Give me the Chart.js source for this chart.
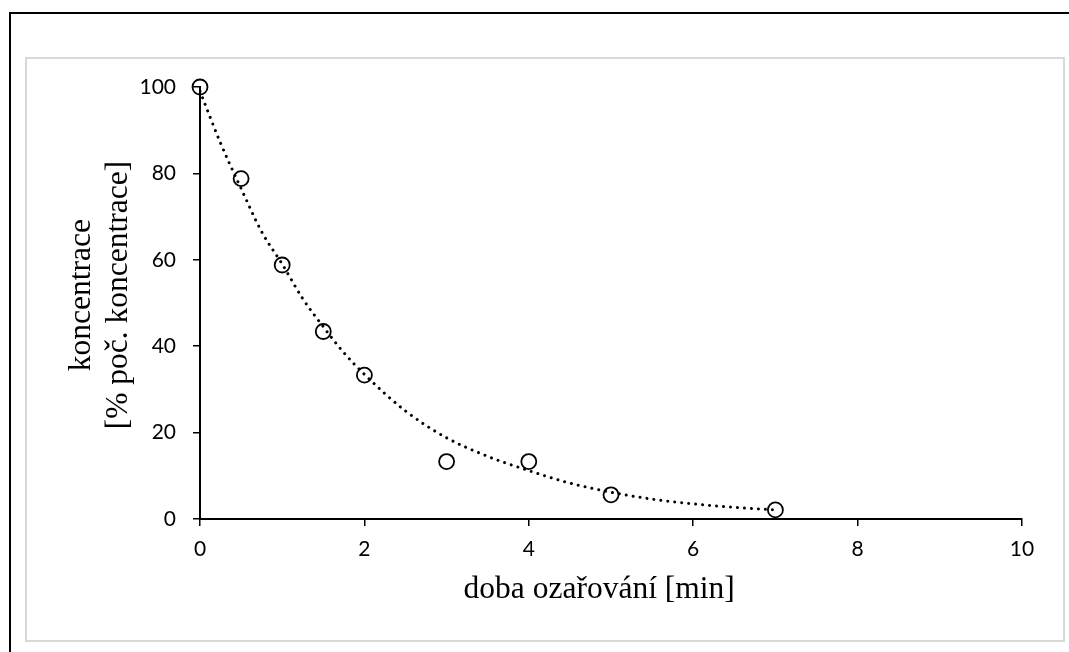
<!DOCTYPE html>
<html>
<head>
<meta charset="utf-8">
<script src="https://cdn.jsdelivr.net/npm/chart.js@4"></script>
<style>
  html, body { margin: 0; padding: 0; background: #ffffff; }
  #wrap { position: relative; width: 1069px; height: 652px; overflow: hidden; }
  #outer { position: absolute; left: 9px; top: 12px; width: 1100px; height: 700px;
           border-top: 2px solid #000; border-left: 2px solid #000; }
  #inner { position: absolute; left: 25px; top: 57px; width: 1036px; height: 581px;
           border: 2px solid #d9d9d9; }
  canvas { position: absolute; left: 0; top: 0; }
</style>
</head>
<body>
<div id="wrap">
  <div id="outer"></div>
  <div id="inner"></div>
  <canvas id="chart" width="1069" height="652"></canvas>
</div>
<script>
// measured points (time in min, concentration in % of initial)
const measuredTime = [0, 0.5, 1, 1.5, 2, 3, 4, 5, 7];
const measuredConc = [100, 78.8, 58.8, 43.4, 33.3, 13.3, 13.3, 5.6, 2.1];

// dotted trend line
const trendTime = [0, 0.25, 0.5, 0.75, 1, 1.25, 1.5, 1.75, 2, 2.5, 3, 3.5, 4, 4.5, 5, 5.5, 6, 6.5, 7];
const trendConc = [99, 87, 76.5, 66.5, 59, 51, 44.5, 38.5, 33.5, 25, 18.8, 14.5, 11.2, 8.3, 6.2, 4.6, 3.5, 2.7, 2.1];

const xTicks = [0, 2, 4, 6, 8, 10];
const yTicks = [0, 20, 40, 60, 80, 100];

const TICK_FONT = { family: 'Lato', size: 21 };
const TITLE_FONT = { family: '"Liberation Serif", "Times New Roman", serif', size: 31.5 };

const ctx = document.getElementById('chart').getContext('2d');
const chart = new Chart(ctx, {
    type: 'scatter',
    data: {
        datasets: [{
            label: 'trend',
            type: 'line',
            data: trendTime.map((t, i) => ({ x: t, y: trendConc[i] })),
            borderColor: '#000000',
            borderWidth: 3,
            borderDash: [0.001, 7],
            borderCapStyle: 'round',
            pointRadius: 0,
            fill: false,
            cubicInterpolationMode: 'monotone',
            order: 0
        }, {
            label: 'koncentrace',
            data: measuredTime.map((t, i) => ({ x: t, y: measuredConc[i] })),
            pointStyle: 'circle',
            pointRadius: 7.5,
            pointBorderWidth: 1.8,
            pointBorderColor: '#000000',
            pointBackgroundColor: 'rgba(0,0,0,0)',
            showLine: false,
            clip: false,
            order: 1
        }]
    },
    options: {
        responsive: false,
        animation: false,
        layout: {
            padding: { left: 0, top: 87, right: 47, bottom: 0 }
        },
        plugins: {
            legend: { display: false },
            tooltip: { enabled: false }
        },
        scales: {
            x: {
                type: 'linear',
                min: 0,
                max: 10,
                afterBuildTicks: s => { s.ticks = xTicks.map(v => ({ value: v })); },
                afterFit: s => { s.height = 133; },
                ticks: { color: '#000', font: TICK_FONT, padding: 11 },
                grid: {
                    drawOnChartArea: false,
                    drawTicks: true,
                    tickLength: 7,
                    color: '#000',
                    lineWidth: 1.5
                },
                border: { display: true, color: '#000', width: 2 },
                title: {
                    display: true,
                    // trailing spaces nudge the centred title a little to the left, as in the original
                    text: 'doba ozařování [min]   ',
                    color: '#000',
                    font: TITLE_FONT,
                    padding: { top: 0, bottom: 43 }
                }
            },
            y: {
                type: 'linear',
                min: 0,
                max: 100,
                afterBuildTicks: s => { s.ticks = yTicks.map(v => ({ value: v })); },
                afterFit: s => { s.width = 200; },
                ticks: { color: '#000', font: TICK_FONT, padding: 17 },
                grid: {
                    drawOnChartArea: false,
                    drawTicks: true,
                    tickLength: 7,
                    color: '#000',
                    lineWidth: 1.5
                },
                border: { display: true, color: '#000', width: 2 },
                title: {
                    display: true,
                    // leading spaces lift the rotated title a few pixels
                    text: ['  koncentrace', '  [% poč. koncentrace]'],
                    color: '#000',
                    font: Object.assign({ lineHeight: 1.15 }, TITLE_FONT),
                    padding: { top: 64, bottom: 0 }
                }
            }
        }
    }
});
</script>
</body>
</html>
